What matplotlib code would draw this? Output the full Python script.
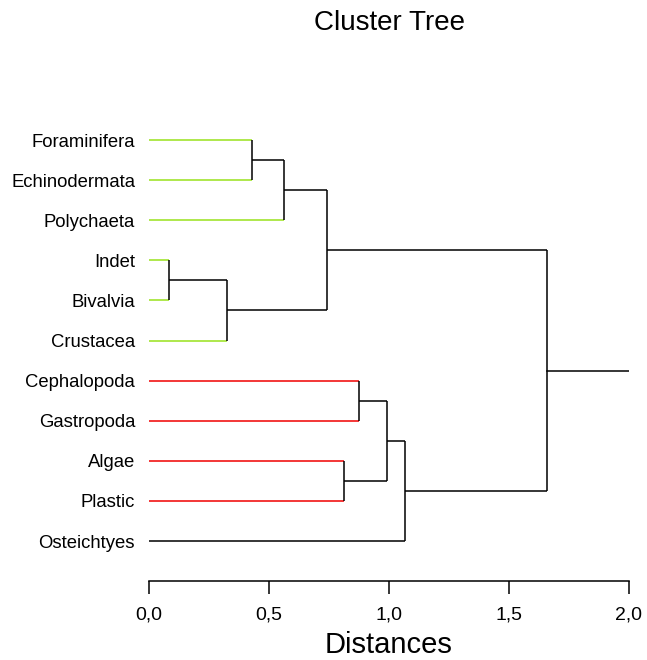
import matplotlib.pyplot as plt
from matplotlib.ticker import FuncFormatter

plt.rcParams['font.family'] = ['Liberation Sans', 'DejaVu Sans']

# =========================
# DATA
# =========================

leaves = ["Foraminifera", "Echinodermata", "Polychaeta", "Indet", "Bivalvia",
          "Crustacea", "Cephalopoda", "Gastropoda", "Algae", "Plastic", "Osteichtyes"]
leaf_colors = ["green"] * 6 + ["red"] * 4 + ["black"]

# merges: (left node, right node, distance); new nodes numbered after the leaves
merge_left = [0, 3, 11, 12, 13, 6, 8, 16, 18, 15]
merge_right = [1, 4, 2, 5, 14, 7, 9, 17, 10, 19]
merge_dist = [0.429, 0.082, 0.563, 0.326, 0.743, 0.876, 0.814, 0.993, 1.067, 1.657]

root_end = 2.0
xticks = [0.0, 0.5, 1.0, 1.5, 2.0]

palette = {"green": "#99E21B", "red": "#F00000", "black": "black"}

# =========================
# Plot
# =========================

fig = plt.figure(figsize=(6.47, 6.6), dpi=100)
W, H = 647, 660
ax = fig.add_axes([149 / W, (660 - 581) / H, 480 / W, 461 / H])

pos_y = {i: float(i) for i in range(len(leaves))}
pos_x = {i: 0.0 for i in range(len(leaves))}

node = len(leaves)
for l, r, d in zip(merge_left, merge_right, merge_dist):
    for child in (l, r):
        col = "black"
        if child < len(leaves):
            col = palette[leaf_colors[child]]
        ax.plot([pos_x[child], d], [pos_y[child], pos_y[child]], color=col, lw=1.1,
                solid_capstyle="butt")
    ax.plot([d, d], [pos_y[l], pos_y[r]], color="black", lw=1.1, solid_capstyle="butt")
    pos_x[node] = d
    pos_y[node] = (pos_y[l] + pos_y[r]) / 2
    node += 1

root = node - 1
ax.plot([pos_x[root], root_end], [pos_y[root], pos_y[root]], color="black", lw=1.1)

ax.set_xlim(0, 2.0)
ax.set_ylim(-0.5 + 461 / 40.1, -0.5)

ax.set_yticks(range(len(leaves)))
ax.set_yticklabels(leaves, fontsize=13.3)
ax.tick_params(axis="y", length=0, pad=10)

ax.set_xticks(xticks)
ax.xaxis.set_major_formatter(FuncFormatter(lambda v, p: f"{v:.1f}".replace(".", ",")))
ax.tick_params(axis="x", direction="out", length=9, width=1.1, labelsize=14, pad=9)

for s in ["left", "right", "top"]:
    ax.spines[s].set_visible(False)
ax.spines["bottom"].set_linewidth(1.1)
ax.spines["bottom"].set_bounds(0, 2.0)

ax.set_xlabel("Distances", fontsize=21, labelpad=6)
fig.text(389 / W, 1 - 23 / H, "Cluster Tree", fontsize=20, ha="center", va="center")

plt.savefig("out.png", dpi=100)
